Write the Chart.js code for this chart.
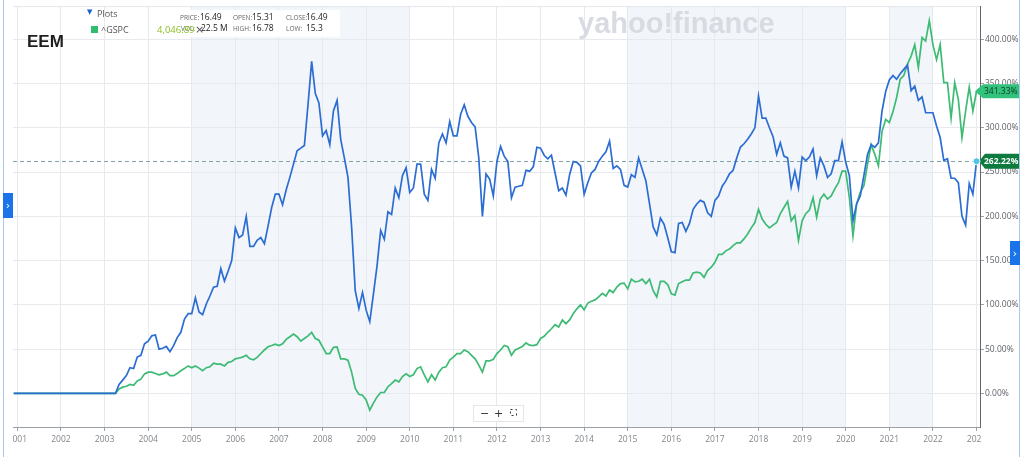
<!DOCTYPE html>
<html>
<head>
<meta charset="utf-8">
<script src="https://cdn.jsdelivr.net/npm/chart.js@4.4.1/dist/chart.umd.min.js"></script>
<style>
  html, body { margin: 0; padding: 0; background: #fff; }
  canvas { display: block; }
</style>
</head>
<body>
<canvas id="chart" width="1024" height="457"></canvas>
<script>
// EEM vs ^GSPC, % change since April 2003, monthly closes

// first month in the arrays is Dec 2000, one value per month up to Jan 2023
const firstYear = 2000;
const firstMonth = 12;

const eem = [
  // Dec 2000 - Mar 2003: before the fund existed, flat
  0, 0, 0, 0, 0, 0, 0, 0, 0, 0, 0, 0, 0, 0, 0, 0, 0, 0, 0, 0, 0, 0, 0, 0, 0, 0, 0, 0,
  0, 10, 15, 20, 29, 28, 41, 43, 56,                          // 2003 Apr-Dec
  59, 65, 66, 50, 51, 53, 47, 54, 63, 69, 84, 90,             // 2004
  90, 108, 92, 89, 101, 110, 120, 121, 141, 127, 138, 150,    // 2005
  187, 176, 179, 200, 166, 166, 173, 176, 169, 189, 210, 225, // 2006
  225, 213, 230, 244, 259, 274, 277, 280, 326, 375, 339, 328, // 2007
  291, 297, 281, 319, 331, 287, 266, 244, 188, 116, 96, 114,  // 2008
  94, 81, 112, 144, 184, 174, 205, 202, 232, 221, 246, 255,   // 2009
  227, 232, 259, 259, 225, 218, 253, 243, 283, 293, 283, 307, // 2010
  291, 291, 315, 326, 313, 306, 301, 266, 200, 248, 242, 223, // 2011
  262, 279, 268, 262, 221, 233, 234, 235, 252, 251, 256, 278, // 2012
  277, 269, 265, 269, 249, 229, 232, 224, 247, 262, 261, 257, // 2013
  225, 238, 249, 253, 262, 268, 273, 285, 254, 257, 253, 235, // 2014
  233, 247, 244, 266, 253, 240, 214, 188, 179, 198, 191, 176, // 2015
  160, 159, 192, 193, 183, 192, 208, 214, 218, 216, 204, 200, // 2016
  218, 223, 234, 240, 248, 252, 266, 278, 282, 287, 293, 300, // 2017
  336, 311, 311, 300, 290, 270, 283, 268, 266, 233, 251, 232, // 2018
  267, 263, 267, 276, 246, 266, 257, 244, 248, 263, 263, 284, // 2019
  261, 246, 195, 214, 223, 246, 270, 281, 278, 283, 319, 341, // 2020
  354, 359, 355, 361, 366, 371, 342, 347, 331, 335, 317, 317, // 2021
  317, 302, 289, 263, 265, 243, 243, 238, 200, 190, 237, 225, // 2022
  262.22                                                      // 2023 Jan
];

const gspc = [
  0, 0, 0, 0, 0, 0, 0, 0, 0, 0, 0, 0, 0, 0, 0, 0, 0, 0, 0, 0, 0, 0, 0, 0, 0, 0, 0, 0,
  0, 5, 7, 8, 10, 9, 14, 16, 22,
  24, 24, 22.5, 21, 22, 24, 20, 20, 22.5, 25.5, 28, 31,
  29, 31, 28.5, 25.5, 29, 30, 34, 33, 33, 31, 35, 36,
  39, 40, 41, 43, 39, 38, 40.6, 45, 49, 52.6, 54, 55.6,
  54, 56, 61, 64, 67, 64, 59, 62, 65, 69, 62, 60,
  52.5, 45, 45, 52, 52.5, 39, 39, 37.5, 24, 5.6, -1, -2,
  -7.5, -19, -11, -4, 1, 1, 7.5, 11, 15, 13, 19, 22,
  19, 21, 28, 30, 21, 13, 21, 15, 24, 29, 30, 37.5,
  41, 45, 45, 49, 47, 43, 39, 32, 24, 36.6, 36.6, 38.5,
  45, 49, 54, 52.6, 43, 49, 51, 53, 57, 54.5, 54, 55,
  62, 64.5, 69, 73, 77.6, 75, 83, 78.7, 83, 90, 95.5, 100,
  94.4, 102, 104, 105.6, 109, 113, 110, 116.8, 114, 120, 124, 124.5,
  118, 129, 126, 126.6, 129, 124, 129, 116, 109, 126.6, 126.6, 123,
  112.5, 111, 124, 126, 128, 128, 136, 137, 136, 131, 139, 142.5,
  148, 157, 157, 161, 163, 167, 170, 170, 174.5, 180, 187, 193,
  208, 197, 191, 187, 190, 193, 203, 210, 217, 195, 201, 172.6,
  195, 203, 207, 221, 199, 219.5, 225, 219.5, 223, 231, 238, 251,
  251, 221, 178, 214, 227, 234.5, 258.6, 281, 270, 257, 296, 309.5,
  306, 318, 334, 355, 359, 372, 381, 394, 368, 402, 398, 421,
  394, 377, 394, 351, 351, 311, 351, 332, 289, 319, 346, 319,
  341.33
];

const yearTicks = [2001, 2002, 2003, 2004, 2005, 2006, 2007, 2008, 2009, 2010, 2011, 2012,
  2013, 2014, 2015, 2016, 2017, 2018, 2019, 2020, 2021, 2022, 2023];
const pctTicks = [0, 50, 100, 150, 200, 250, 300, 350, 400];
const shadedYears = [[2005, 2010], [2015, 2020], [2021, 2022]];

// month i -> decimal year
const monthX = eem.map((_, i) => firstYear + (firstMonth - 1 + i) / 12);

const BLUE = "#2b6dd3";
const GREEN = "#3dbb74";

function txt(ctx, s, x, y, font, color, align) {
  ctx.font = font;
  ctx.fillStyle = color;
  ctx.textAlign = align || "left";
  ctx.textBaseline = "alphabetic";
  ctx.fillText(s, x, y);
}

const decor = {
  id: "decor",
  beforeDraw(chart) {
    const { ctx, chartArea: a, scales: { x } } = chart;
    ctx.save();
    ctx.fillStyle = "#f2f5f9";
    shadedYears.forEach(([from, to]) => {
      const x0 = x.getPixelForValue(from);
      const x1 = x.getPixelForValue(to);
      ctx.fillRect(x0, a.top, x1 - x0, a.bottom - a.top);
    });
    ctx.restore();
  },
  beforeDatasetsDraw(chart) {
    const { ctx, chartArea: a, scales: { y } } = chart;
    ctx.save();
    // watermark
    txt(ctx, "yahoo!finance", 578, 33, 'bold 29px "Liberation Sans"', "#d8dce2");
    // dashed line at the last EEM value
    const yy = Math.round(y.getPixelForValue(eem[eem.length - 1])) + 0.5;
    ctx.strokeStyle = "#7fa3a6";
    ctx.lineWidth = 1;
    ctx.setLineDash([4, 3]);
    ctx.beginPath();
    ctx.moveTo(a.left, yy);
    ctx.lineTo(a.right, yy);
    ctx.stroke();
    ctx.restore();
  },
  afterDraw(chart) {
    const { ctx, chartArea: a } = chart;
    ctx.save();

    // tick labels are cut at the plot edges in the original
    ctx.fillStyle = "#fff";
    ctx.fillRect(4, a.bottom + 5, a.left - 4, 18);
    ctx.fillRect(a.right + 1, a.bottom + 5, 30, 18);

    // top border
    ctx.strokeStyle = "#e3e6ea";
    ctx.beginPath();
    ctx.moveTo(a.left, a.top + 0.5);
    ctx.lineTo(a.right, a.top + 0.5);
    ctx.stroke();

    // header
    ctx.fillStyle = "#fff";
    ctx.fillRect(150, 10, 190, 27);
    txt(ctx, "EEM", 27, 47, 'bold 17px "Liberation Sans"', "#1f1f1f");
    txt(ctx, "\u25BC", 87, 14, '7px "DejaVu Sans"', "#1a5fd0");
    txt(ctx, "Plots", 97, 17, '9px "Open Sans"', "#555");
    ctx.fillStyle = "#2ebd6e";
    ctx.fillRect(91, 26, 7, 7);
    txt(ctx, "^GSPC", 101, 33, '9px "Open Sans"', "#555");

    const lab = '6.5px "Open Sans"', val = '8.5px "Open Sans"';
    txt(ctx, "PRICE:", 180, 20, lab, "#666");
    txt(ctx, "16.49", 200, 20, val, "#222");
    txt(ctx, "OPEN:", 233, 20, lab, "#666");
    txt(ctx, "15.31", 252, 20, val, "#222");
    txt(ctx, "CLOSE:", 286, 20, lab, "#666");
    txt(ctx, "16.49", 306, 20, val, "#222");
    txt(ctx, "VOL:", 181, 31, lab, "#666");
    txt(ctx, "22.5 M", 201, 31, val, "#222");
    txt(ctx, "HIGH:", 233, 31, lab, "#666");
    txt(ctx, "16.78", 252, 31, val, "#222");
    txt(ctx, "LOW:", 286, 31, lab, "#666");
    txt(ctx, "15.3", 306, 31, val, "#222");
    txt(ctx, "4,046.89", 157, 33, '9.5px "Open Sans"', "#8cbf26");
    txt(ctx, "\u00D7", 195, 33, '11px "DejaVu Sans"', "#555");

    // end-of-line value tags
    const mE = chart.getDatasetMeta(0), mG = chart.getDatasetMeta(1);
    const pE = mE.data[mE.data.length - 1], pG = mG.data[mG.data.length - 1];
    const tagFont = '8.5px "Open Sans"';

    const yg = pG.y;
    ctx.fillStyle = "#33c27b";
    ctx.beginPath();
    ctx.moveTo(a.right - 5, yg);
    ctx.lineTo(a.right + 3, yg - 7);
    ctx.lineTo(1020, yg - 7);
    ctx.lineTo(1020, yg + 7);
    ctx.lineTo(a.right + 3, yg + 7);
    ctx.closePath();
    ctx.fill();
    txt(ctx, gspc[gspc.length - 1].toFixed(2) + "%", 984, yg + 3, tagFont, "#0f3a22");

    const ye = pE.y;
    ctx.fillStyle = "#0d7a3e";
    ctx.beginPath();
    ctx.moveTo(a.right - 1, ye);
    ctx.lineTo(a.right + 5, ye - 7.5);
    ctx.lineTo(1020, ye - 7.5);
    ctx.lineTo(1020, ye + 7.5);
    ctx.lineTo(a.right + 5, ye + 7.5);
    ctx.closePath();
    ctx.fill();
    txt(ctx, eem[eem.length - 1].toFixed(2) + "%", 984, ye + 3, "bold " + tagFont, "#fff");
    ctx.fillStyle = "#4fc3e8";
    ctx.strokeStyle = "#fff";
    ctx.beginPath();
    ctx.arc(pE.x, ye, 3.5, 0, Math.PI * 2);
    ctx.fill();
    ctx.stroke();

    // zoom controls
    ctx.fillStyle = "#fff";
    ctx.strokeStyle = "#e4e6e9";
    ctx.fillRect(473, 405, 50, 16);
    ctx.strokeRect(473.5, 405.5, 50, 16);
    txt(ctx, "\u2212", 480, 417, '11px "DejaVu Sans"', "#333");
    txt(ctx, "+", 494, 417, '11px "DejaVu Sans"', "#333");
    ctx.strokeStyle = "#333";
    ctx.setLineDash([2, 3]);
    ctx.strokeRect(510.5, 409.5, 6, 6);
    ctx.setLineDash([]);

    // page frame and side tabs
    ctx.strokeStyle = "#a9c8ee";
    ctx.beginPath();
    ctx.moveTo(3.5, 0); ctx.lineTo(3.5, 457);
    ctx.moveTo(1019.5, 0); ctx.lineTo(1019.5, 457);
    ctx.stroke();
    ctx.fillStyle = "#1a73e8";
    ctx.fillRect(3, 193, 10, 25);
    ctx.fillRect(1010, 241, 10, 24);
    txt(ctx, "\u203A", 8, 209, '11px "DejaVu Sans"', "#fff", "center");
    txt(ctx, "\u203A", 1015, 257, '11px "DejaVu Sans"', "#fff", "center");

    ctx.restore();
  }
};

new Chart(document.getElementById("chart"), {
  type: "line",
  data: {
    datasets: [
      {
        label: "EEM",
        data: eem.map((v, i) => ({ x: monthX[i], y: v })),
        borderColor: BLUE,
        borderWidth: 1.7,
        pointRadius: 0,
        tension: 0,
      },
      {
        label: "^GSPC",
        data: gspc.map((v, i) => ({ x: monthX[i], y: v })),
        borderColor: GREEN,
        borderWidth: 1.7,
        pointRadius: 0,
        tension: 0,
      },
    ],
  },
  options: {
    responsive: false,
    animation: false,
    events: [],
    layout: { padding: { left: 13, top: 5, right: 0, bottom: 0 } },
    plugins: { legend: { display: false }, tooltip: { enabled: false } },
    scales: {
      x: {
        type: "linear",
        min: 2000.9,
        max: 2023.08,
        afterFit: (s) => { s.height = 30; },
        afterBuildTicks: (s) => { s.ticks = yearTicks.map((v) => ({ value: v })); },
        grid: { color: "#e6e9ed", tickLength: 4, tickColor: "#9aa0a6" },
        border: { color: "#9aa0a6" },
        ticks: {
          autoSkip: false,
          maxRotation: 0,
          padding: 3,
          color: "#80868b",
          font: { family: "Open Sans", size: 8.5 },
          callback: (v) => String(v),
        },
      },
      y: {
        position: "right",
        min: -38,
        max: 437.5,
        afterFit: (s) => { s.width = 44; },
        afterBuildTicks: (s) => { s.ticks = pctTicks.map((v) => ({ value: v })); },
        grid: { color: "#e6e9ed", tickLength: 4, tickColor: "#9aa0a6" },
        border: { color: "#666" },
        ticks: {
          padding: 1,
          color: "#5f6368",
          font: { family: "Open Sans", size: 8.5 },
          callback: (v) => v.toFixed(2) + "%",
        },
      },
    },
  },
  plugins: [decor],
});
</script>
</body>
</html>
